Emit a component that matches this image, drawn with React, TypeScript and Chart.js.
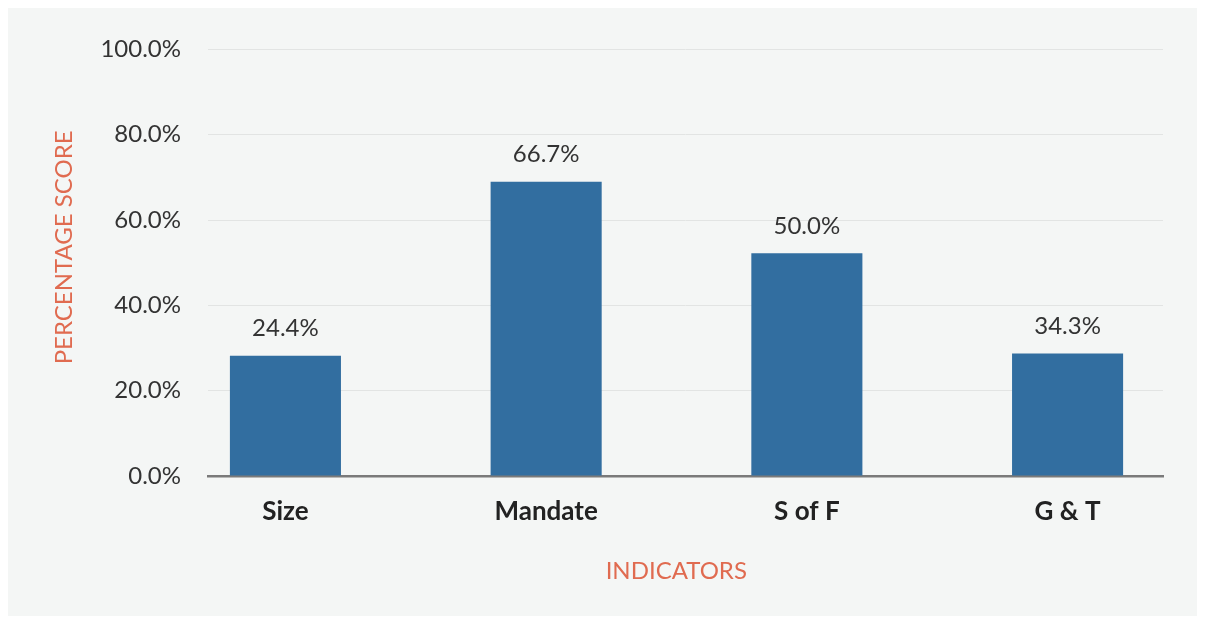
import React, { useEffect, useRef } from "react";
import { Chart, registerables } from "chart.js";

Chart.register(...registerables);

const categories = ["Size", "Mandate", "S of F", "G & T"];
const barValues = [28.2, 69.0, 52.2, 28.7];
const valueLabels = ["24.4%", "66.7%", "50.0%", "34.3%"];
const yTicks = [0, 20, 40, 60, 80, 100];

const FONT = "Lato, 'Open Sans', sans-serif";
const ORANGE = "#e06b50";

const dataLabelPlugin = {
  id: "dataLabels",
  afterDatasetsDraw(chart: any) {
    const ctx = chart.ctx;
    const meta = chart.getDatasetMeta(0);
    ctx.save();
    ctx.font = `400 24px ${FONT}`;
    ctx.fillStyle = "#333333";
    ctx.textAlign = "center";
    ctx.textBaseline = "middle";
    meta.data.forEach((el: any, i: number) => {
      ctx.fillText(valueLabels[i], el.x, el.y - 27);
    });
    ctx.restore();
  },
};

export default function App() {
  const ref = useRef<HTMLCanvasElement | null>(null);
  useEffect(() => {
    if (!ref.current) return;
    const chart = new Chart(ref.current, {
      type: "bar",
      data: {
        datasets: [
          {
            data: barValues.map((v, i) => ({ x: i, y: v })),
            backgroundColor: "#326ea0",
            categoryPercentage: 1,
            barPercentage: 0.426,
          },
        ],
      },
      options: {
        animation: false,
        responsive: false,
        layout: { padding: { left: 0, right: 34, top: 38, bottom: 0 } },
        plugins: { legend: { display: false }, tooltip: { enabled: false } },
        scales: {
          x: {
            type: "linear",
            offset: false,
            min: -0.297,
            max: 3.366,
            afterBuildTicks: (s: any) => {
              s.ticks = categories.map((_, i) => ({ value: i }));
            },
            afterFit: (s: any) => {
              s.height = 140;
            },
            ticks: {
              callback: (v: any) => categories[v] ?? "",
              font: { family: FONT, size: 26, weight: "bold" },
              color: "#222222",
              padding: 20,
              maxRotation: 0,
              autoSkip: false,
            },
            grid: { display: false, drawTicks: false },
            border: { display: true, color: "#7a7a7a", width: 2.5 },
            title: {
              display: true,
              text: "INDICATORS   ",
              color: ORANGE,
              font: { family: FONT, size: 24 },
              padding: { top: 0, bottom: 30 },
            },
          },
          y: {
            min: 0,
            max: 100,
            afterBuildTicks: (s: any) => {
              s.ticks = yTicks.map((v) => ({ value: v }));
            },
            afterFit: (s: any) => {
              s.width = 200;
            },
            ticks: {
              callback: (v: any) => Number(v).toFixed(1) + "%",
              font: { family: FONT, size: 24 },
              color: "#333333",
              padding: 27,
            },
            grid: { color: "#e2e4e3", lineWidth: 1, drawTicks: false },
            border: { display: false },
            title: {
              display: true,
              text: "     PERCENTAGE SCORE",
              color: ORANGE,
              font: { family: FONT, size: 24 },
              padding: { top: 42, bottom: 0 },
            },
          },
        },
      },
      plugins: [dataLabelPlugin],
    } as any);
    return () => chart.destroy();
  }, []);
  return (
    <div style={{ width: 1189, height: 608, background: "#f4f6f5" }}>
      <canvas ref={ref} width={1189} height={608} style={{ display: "block" }} />
    </div>
  );
}
